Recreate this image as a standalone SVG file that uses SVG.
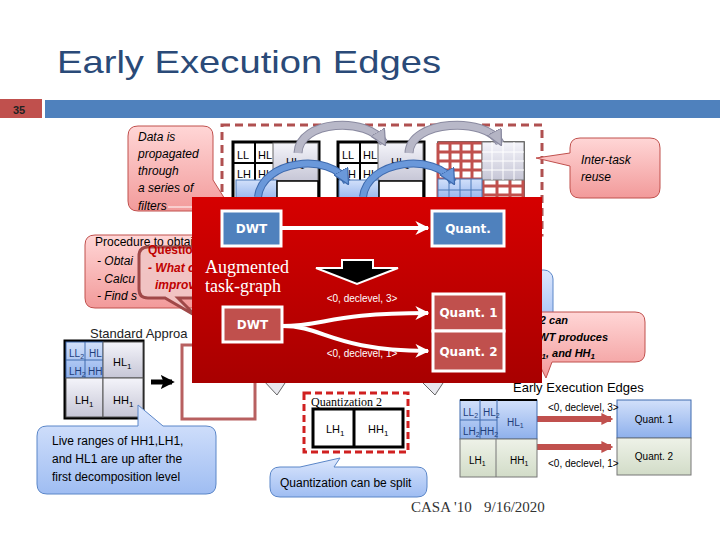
<svg xmlns="http://www.w3.org/2000/svg" width="720" height="540" viewBox="0 0 720 540">
<defs>
<linearGradient id="gPink" x1="0" y1="0" x2="0" y2="1"><stop offset="0" stop-color="#FFD6D6"/><stop offset="1" stop-color="#F29A9A"/></linearGradient>
<linearGradient id="gBlue" x1="0" y1="0" x2="0" y2="1"><stop offset="0" stop-color="#DCE7FD"/><stop offset="1" stop-color="#9FBDF2"/></linearGradient>
<linearGradient id="gCell" x1="0" y1="0" x2="0" y2="1"><stop offset="0" stop-color="#F4F4FA"/><stop offset="1" stop-color="#C6C6D6"/></linearGradient>
<linearGradient id="gBlueCell" x1="0" y1="0" x2="0" y2="1"><stop offset="0" stop-color="#D2E0FA"/><stop offset="1" stop-color="#8EB0EC"/></linearGradient>
<linearGradient id="gGreen" x1="0" y1="0" x2="0" y2="1"><stop offset="0" stop-color="#EEF2E8"/><stop offset="1" stop-color="#D2DCC8"/></linearGradient>
<linearGradient id="gRed" x1="0" y1="0" x2="0" y2="1"><stop offset="0" stop-color="#D60000"/><stop offset="1" stop-color="#A80000"/></linearGradient>
<clipPath id="cLeft"><rect x="0" y="0" width="192" height="540"/></clipPath>
<clipPath id="cRight"><rect x="542" y="0" width="178" height="540"/></clipPath>
<marker id="mWhite" markerWidth="14" markerHeight="14" refX="9" refY="5" orient="auto" markerUnits="userSpaceOnUse" viewBox="0 0 10 10"><path d="M0,0 L10,5 L0,10 L3,5 Z" fill="#fff"/></marker>
<marker id="mRed" markerWidth="12" markerHeight="14" refX="8" refY="5" orient="auto" markerUnits="userSpaceOnUse" viewBox="0 0 10 10"><path d="M0,0 L10,5 L0,10 Z" fill="#C0504D"/></marker>
<marker id="mBlack" markerWidth="14" markerHeight="16" refX="8" refY="5" orient="auto" markerUnits="userSpaceOnUse" viewBox="0 0 10 10"><path d="M0,0 L10,5 L0,10 L2,5 Z" fill="#000"/></marker>
<marker id="mGrey" markerWidth="16" markerHeight="16" refX="8" refY="5" orient="auto" markerUnits="userSpaceOnUse" viewBox="0 0 10 10"><path d="M0,0 L10,5 L0,10 Z" fill="#B4B4C4" stroke="#8A8AA0" stroke-width="0.8"/></marker>
<marker id="mBlu" markerWidth="16" markerHeight="16" refX="8" refY="5" orient="auto" markerUnits="userSpaceOnUse" viewBox="0 0 10 10"><path d="M0,0 L10,5 L0,10 Z" fill="#6A98DA" stroke="#3E6AAE" stroke-width="0.8"/></marker>
</defs>
<style>
text{font-family:"Liberation Sans",Arial,sans-serif}
.callP{fill:url(#gPink);stroke:#C0504D;stroke-width:1}
.callB{fill:url(#gBlue);stroke:#5A86C8;stroke-width:1}
.it{font-style:italic;font-size:12px;fill:#000}
.cell{font-size:11px;fill:#000}
.wb{font-family:"DejaVu Sans",Verdana,sans-serif;font-weight:bold;font-size:12px;fill:#fff}
.lbl{font-size:10px;fill:#fff}
.lblk{font-size:10px;fill:#000}
.serif{font-family:"Liberation Serif","DejaVu Serif",serif}
.blk{fill:none;stroke:#000}
</style>
<rect width="720" height="540" fill="#fff"/>

<!-- header -->
<g id="header">
<text x="57" y="73" font-size="32" fill="#2A4A78" textLength="384" lengthAdjust="spacingAndGlyphs">Early Execution Edges</text>
<rect x="0" y="99" width="42" height="19" fill="#C0504D"/>
<text x="13" y="114" font-size="11" font-weight="bold" fill="#222">35</text>
<rect x="45" y="100" width="675" height="18" fill="#4F81BD"/>
</g>

<!-- Data callout -->
<g id="data-callout">
<path class="callP" d="M138,126 H203 Q213,126 213,136 V180 L233,212 L200,211 H138 Q128,211 128,201 V136 Q128,126 138,126 Z"/>
<text class="it" x="138" y="141">Data is</text>
<text class="it" x="138" y="158">propagated</text>
<text class="it" x="138" y="175">through</text>
<text class="it" x="138" y="192">a series of</text>
<text class="it" x="138" y="210">filters</text>
<line x1="168" y1="207" x2="194" y2="207" stroke="#fff" stroke-width="1"/>
</g>

<!-- top dashed region with grids -->
<g id="pipeline">
<rect x="222" y="125" width="320" height="110" fill="none" stroke="#B05050" stroke-width="3" stroke-dasharray="8,5"/>
<g id="grid1">
<rect x="233" y="142" width="86" height="60" fill="#fff" stroke="#000" stroke-width="3"/>
<line class="blk" x1="255" y1="142" x2="255" y2="181" stroke-width="2"/>
<line class="blk" x1="233" y1="163" x2="275" y2="163" stroke-width="2"/>
<text class="cell" x="237" y="159">LL</text><text class="cell" x="258" y="159">HL</text>
<text class="cell" x="237" y="178">LH</text><text class="cell" x="258" y="178">HH</text>
<rect x="273" y="143" width="45" height="38" fill="url(#gCell)" stroke="#666" stroke-width="1"/>
<text class="cell" x="286" y="166">HL<tspan font-size="8" dy="3">1</tspan></text>
<rect x="236" y="180" width="41" height="22" fill="url(#gBlueCell)" stroke="#4A78B8" stroke-width="1"/>
<rect x="277" y="181" width="41" height="21" fill="#fff" stroke="#000" stroke-width="1.5"/>
</g>
<g id="grid2">
<rect x="338" y="142" width="86" height="60" fill="#fff" stroke="#000" stroke-width="3"/>
<line class="blk" x1="360" y1="142" x2="360" y2="181" stroke-width="2"/>
<line class="blk" x1="338" y1="163" x2="380" y2="163" stroke-width="2"/>
<text class="cell" x="342" y="159">LL</text><text class="cell" x="363" y="159">HL</text>
<text class="cell" x="342" y="178">LH</text><text class="cell" x="363" y="178">HH</text>
<rect x="378" y="143" width="45" height="38" fill="url(#gCell)" stroke="#666" stroke-width="1"/>
<text class="cell" x="391" y="166">HL<tspan font-size="8" dy="3">1</tspan></text>
<rect x="339" y="180" width="40" height="22" fill="url(#gBlueCell)" stroke="#4A78B8" stroke-width="1"/>
<rect x="379" y="181" width="44" height="21" fill="#fff" stroke="#000" stroke-width="1.5"/>
</g>
<g id="grid3">
<rect x="438" y="142" width="86" height="60" fill="#fff" stroke="#333" stroke-width="1.5"/>
<g stroke="#C0504D" stroke-width="3">
<line x1="438" y1="143" x2="438" y2="202"/><line x1="450" y1="143" x2="450" y2="180"/><line x1="461" y1="143" x2="461" y2="180"/><line x1="472" y1="143" x2="472" y2="180"/><line x1="483" y1="143" x2="483" y2="202"/>
<line x1="438" y1="143" x2="483" y2="143"/><line x1="438" y1="152" x2="483" y2="152"/><line x1="438" y1="161" x2="483" y2="161"/><line x1="438" y1="170" x2="483" y2="170"/><line x1="438" y1="179" x2="483" y2="179"/>
<line x1="483" y1="186" x2="524" y2="186"/><line x1="483" y1="195" x2="524" y2="195"/><line x1="497" y1="180" x2="497" y2="202"/><line x1="510" y1="180" x2="510" y2="202"/><line x1="523" y1="180" x2="523" y2="202"/>
</g>
<rect x="482" y="142" width="42" height="38" fill="url(#gCell)" stroke="#777" stroke-width="1"/>
<g stroke="#fff" stroke-width="1"><line x1="492" y1="142" x2="492" y2="180"/><line x1="503" y1="142" x2="503" y2="180"/><line x1="514" y1="142" x2="514" y2="180"/><line x1="482" y1="152" x2="524" y2="152"/><line x1="482" y1="161" x2="524" y2="161"/><line x1="482" y1="170" x2="524" y2="170"/></g>
<rect x="438" y="179" width="44" height="23" fill="url(#gBlueCell)" stroke="#4A78B8" stroke-width="1"/>
<g stroke="#4A78B8" stroke-width="1"><line x1="449" y1="179" x2="449" y2="202"/><line x1="460" y1="179" x2="460" y2="202"/><line x1="471" y1="179" x2="471" y2="202"/><line x1="438" y1="190" x2="482" y2="190"/></g>
</g>
<g id="reuse-arrows" fill="none">
<path d="M298,153 C299,120 368,116 384,143" stroke="#8A8AA0" stroke-width="9"/>
<path d="M298,153 C299,120 368,116 384,143" stroke="#B8B8C8" stroke-width="7" marker-end="url(#mGrey)"/>
<path d="M409,153 C410,120 486,116 500,143" stroke="#8A8AA0" stroke-width="9"/>
<path d="M409,153 C410,120 486,116 500,143" stroke="#B8B8C8" stroke-width="7" marker-end="url(#mGrey)"/>
<path d="M258,197 C262,160 330,152 347,182" stroke="#3E6AAE" stroke-width="8"/>
<path d="M258,197 C262,160 330,152 347,182" stroke="#6A98DA" stroke-width="6" marker-end="url(#mBlu)"/>
<path d="M363,197 C367,160 436,152 453,182" stroke="#3E6AAE" stroke-width="8"/>
<path d="M363,197 C367,160 436,152 453,182" stroke="#6A98DA" stroke-width="6" marker-end="url(#mBlu)"/>
</g>
</g>

<!-- Inter-task callout -->
<g id="intertask-callout">
<path class="callP" d="M580,138 H650 Q660,138 660,148 V188 Q660,198 650,198 H580 Q570,198 570,188 V166 L536,158 L570,153 V148 Q570,138 580,138 Z"/>
<text class="it" x="581" y="164" font-size="11">Inter-task</text>
<text class="it" x="581" y="181" font-size="11">reuse</text>
</g>

<!-- Procedure callout -->
<g id="procedure-callout">
<path class="callP" d="M95,235 H200 V308 H95 Q85,308 85,298 V245 Q85,235 95,235 Z"/>
<g clip-path="url(#cLeft)">
<text x="95" y="246" font-size="12">Procedure to obtai</text>
<text class="it" x="97" y="265">- Obtai</text>
<text class="it" x="97" y="283">- Calcu</text>
<text class="it" x="97" y="300">- Find s</text>
</g>
</g>

<!-- Questions callout -->
<g id="questions-callout">
<path d="M148,247 H205 V298 H178 L196,316 L165,298 H148 Q139,298 139,289 V256 Q139,247 148,247 Z" fill="#F0C4C4" fill-opacity="0.95" stroke="#A04848" stroke-width="3"/>
<g clip-path="url(#cLeft)">
<text x="148" y="254" font-size="12" font-weight="bold" fill="#C00000">Questio</text>
<text x="148" y="272" font-size="12" font-weight="bold" font-style="italic" fill="#C00000">- What c</text>
<text x="155" y="289" font-size="12" font-weight="bold" font-style="italic" fill="#C00000">improv</text>
</g>
</g>

<!-- Standard approach -->
<g id="standard">
<text x="90" y="338" font-size="13" fill="#222">Standard Approa</text>
<rect x="65" y="341" width="78" height="77" fill="#fff" stroke="#000" stroke-width="3"/>
<rect x="66" y="342" width="37" height="36" fill="url(#gBlueCell)" stroke="#3E6AAE" stroke-width="1"/>
<line x1="85" y1="342" x2="85" y2="378" stroke="#3E6AAE"/><line x1="66" y1="360" x2="103" y2="360" stroke="#3E6AAE"/>
<text x="69" y="357" font-size="10" fill="#1F3E7A">LL<tspan font-size="7" dy="2">2</tspan></text>
<text x="89" y="357" font-size="10" fill="#1F3E7A">HL</text>
<text x="69" y="375" font-size="10" fill="#1F3E7A">LH<tspan font-size="7" dy="2">2</tspan></text>
<text x="88" y="375" font-size="10" fill="#1F3E7A">HH</text>
<rect x="103" y="342" width="40" height="36" fill="url(#gCell)" stroke="#555" stroke-width="1"/>
<rect x="66" y="378" width="37" height="39" fill="url(#gCell)" stroke="#555" stroke-width="1"/>
<rect x="103" y="378" width="40" height="39" fill="url(#gCell)" stroke="#555" stroke-width="1"/>
<text class="cell" x="113" y="366">HL<tspan font-size="8" dy="3">1</tspan></text>
<text class="cell" x="75" y="404">LH<tspan font-size="8" dy="3">1</tspan></text>
<text class="cell" x="113" y="404">HH<tspan font-size="8" dy="3">1</tspan></text>
<line x1="151" y1="382" x2="172" y2="382" stroke="#000" stroke-width="5" marker-end="url(#mBlack)"/>
<rect x="182" y="345" width="73" height="74" fill="#fff" stroke="#B86060" stroke-width="3"/>
</g>

<!-- live ranges callout -->
<g id="live-callout">
<path class="callB" d="M47,426 H138 L138,405 L163,426 H206 Q216,426 216,436 V484 Q216,494 206,494 H47 Q37,494 37,484 V436 Q37,426 47,426 Z"/>
<text x="52" y="445" font-size="12">Live ranges of HH1,LH1,</text>
<text x="52" y="463" font-size="12">and HL1 are up after the</text>
<text x="52" y="481" font-size="12">first decomposition level</text>
</g>

<!-- callouts behind red box -->
<g id="hidden-callouts">
<rect x="470" y="270" width="83" height="60" rx="9" class="callB"/>
<path class="callP" d="M450,312 H635 Q645,312 645,322 V352 Q645,362 635,362 H552 L546,378 L538,362 H450 Z"/>
<g clip-path="url(#cRight)">
<text x="568" y="324" text-anchor="end" font-size="11" font-weight="bold" font-style="italic">2 can</text>
<text x="608" y="341" text-anchor="end" font-size="11" font-weight="bold" font-style="italic">WT produces</text>
<text x="595" y="357" text-anchor="end" font-size="11" font-weight="bold" font-style="italic">H<tspan font-size="8" dy="2">1</tspan><tspan dy="-2">, and HH</tspan><tspan font-size="8" dy="2">1</tspan></text>
</g>
<path d="M263,380 L277,395 L287,380 Z" fill="#E8E8EE" stroke="#666" stroke-width="1"/>
<path d="M420,380 L435,395 L445,380 Z" fill="#E8E8EE" stroke="#666" stroke-width="1"/>
</g>

<!-- Augmented task graph (red panel) -->
<g id="augmented-panel">
<rect x="192" y="197" width="350" height="186" fill="url(#gRed)"/>
<g id="dwt-top"><rect x="222" y="211" width="59" height="35" fill="#4F81BD" stroke="#fff" stroke-width="3"/><text class="wb" x="251.5" y="233" text-anchor="middle">DWT</text></g>
<g id="quant-top"><rect x="432" y="211" width="72" height="35" fill="#4F81BD" stroke="#fff" stroke-width="3"/><text class="wb" x="468" y="233" text-anchor="middle" font-size="11">Quant.</text></g>
<text x="205" y="273" font-size="18" fill="#fff" class="serif">Augmented</text>
<text x="205" y="292" font-size="18" fill="#fff" class="serif">task-graph</text>
<path d="M342,260 H373 V268 H398 L357,284 L316,268 H342 Z" fill="#000" stroke="#fff" stroke-width="2"/>
<text class="lbl" x="362" y="302" text-anchor="middle">&lt;0, declevel, 3&gt;</text>
<text class="lbl" x="362" y="357" text-anchor="middle">&lt;0, declevel, 1&gt;</text>
<g id="dwt-bottom"><rect x="223" y="307" width="59" height="35" fill="#C0504D" stroke="#fff" stroke-width="3"/><text class="wb" x="252.5" y="329" text-anchor="middle">DWT</text></g>
<g id="quant1"><rect x="433" y="294" width="71" height="37" fill="#C0504D" stroke="#fff" stroke-width="3"/><text class="wb" x="468.5" y="317" text-anchor="middle" font-size="11">Quant. 1</text></g>
<g id="quant2"><rect x="433" y="331" width="71" height="40" fill="#C0504D" stroke="#fff" stroke-width="3"/><text class="wb" x="468.5" y="356" text-anchor="middle" font-size="11">Quant. 2</text></g>
</g>

<g id="connectors" fill="none">
<line x1="282" y1="228" x2="428" y2="228" stroke="#fff" stroke-width="4" marker-end="url(#mWhite)"/>
<path d="M282,326 C325,326 330,313 428,313" stroke="#fff" stroke-width="4" marker-end="url(#mWhite)"/>
<path d="M282,326 C325,326 330,350 428,351" stroke="#fff" stroke-width="4" marker-end="url(#mWhite)"/>
<line x1="478" y1="419" x2="611" y2="419" stroke="#C0504D" stroke-width="6" marker-end="url(#mRed)"/>
<line x1="488" y1="447" x2="611" y2="447" stroke="#C0504D" stroke-width="6" marker-end="url(#mRed)"/>
</g>

<!-- Quantization 2 -->
<g id="quantization2">
<rect x="304" y="393" width="104" height="59" fill="none" stroke="#D02020" stroke-width="3" stroke-dasharray="7,4"/>
<text x="311" y="406" font-size="12" class="serif">Quantization 2</text>
<rect x="313" y="409" width="90" height="38" fill="#fff" stroke="#000" stroke-width="3"/>
<line x1="354" y1="409" x2="354" y2="447" stroke="#000" stroke-width="3"/>
<text class="cell" x="326" y="433">LH<tspan font-size="8" dy="3">1</tspan></text>
<text class="cell" x="368" y="433">HH<tspan font-size="8" dy="3">1</tspan></text>
</g>

<g id="split-callout">
<path class="callB" d="M280,467 H300 L340,458 L334,467 H417 Q427,467 427,477 V487 Q427,497 417,497 H280 Q270,497 270,487 V477 Q270,467 280,467 Z"/>
<text x="280" y="487" font-size="12">Quantization can be split</text>
</g>

<!-- Early execution edges -->
<g id="early-edges">
<text x="513" y="392" font-size="13">Early Execution Edges</text>
<rect x="460" y="400" width="77" height="39" fill="url(#gBlueCell)" stroke="#3E6AAE" stroke-width="1"/>
<line x1="460" y1="400" x2="537" y2="400" stroke="#000" stroke-width="2"/>
<line x1="480" y1="400" x2="480" y2="439" stroke="#3E6AAE"/><line x1="497" y1="400" x2="497" y2="439" stroke="#3E6AAE"/><line x1="460" y1="420" x2="497" y2="420" stroke="#3E6AAE"/>
<text x="463" y="416" font-size="10" fill="#1F3E7A">LL<tspan font-size="7" dy="2">2</tspan></text>
<text x="483" y="416" font-size="10" fill="#1F3E7A">HL<tspan font-size="7" dy="2">2</tspan></text>
<text x="463" y="435" font-size="10" fill="#1F3E7A">LH<tspan font-size="7" dy="2">2</tspan><tspan dy="-2">HH</tspan><tspan font-size="7" dy="2">2</tspan></text>
<text x="507" y="426" font-size="10" fill="#1F3E7A">HL<tspan font-size="7" dy="2">1</tspan></text>
<rect x="460" y="439" width="77" height="38" fill="url(#gGreen)" stroke="#777" stroke-width="1"/>
<line x1="496" y1="439" x2="496" y2="477" stroke="#777"/>
<text x="469" y="464" font-size="10">LH<tspan font-size="7" dy="2">1</tspan></text>
<text x="510" y="464" font-size="10">HH<tspan font-size="7" dy="2">1</tspan></text>
<rect x="617" y="400" width="74" height="38" fill="url(#gBlueCell)" stroke="#3E6AAE" stroke-width="1"/>
<rect x="617" y="438" width="74" height="37" fill="url(#gGreen)" stroke="#777" stroke-width="1"/>
<text class="lblk" x="654" y="423" text-anchor="middle">Quant. 1</text>
<text class="lblk" x="654" y="460" text-anchor="middle">Quant. 2</text>
<text class="lblk" x="548" y="411">&lt;0, declevel, 3&gt;</text>
<text class="lblk" x="548" y="467">&lt;0, declevel, 1&gt;</text>
</g>

<g id="footer">
<text x="411" y="512" font-size="15" fill="#333" class="serif">CASA '10</text>
<text x="484" y="512" font-size="15" fill="#333" class="serif">9/16/2020</text>
</g>
</svg>
